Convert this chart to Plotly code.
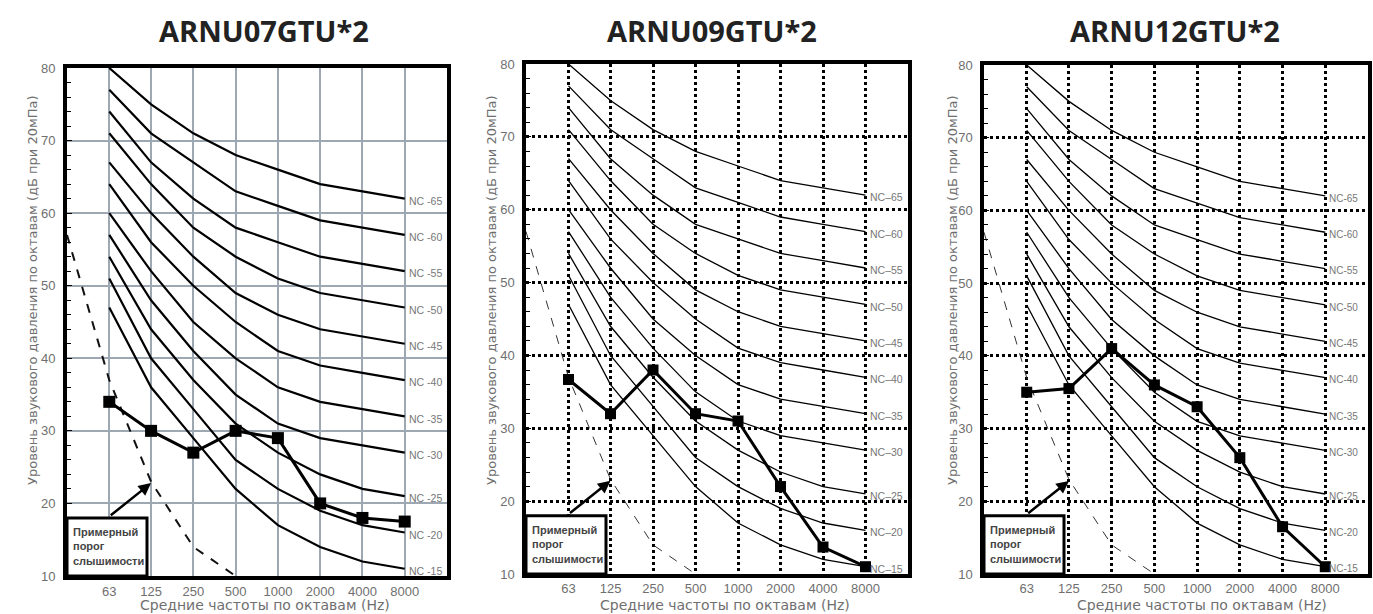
import math
import plotly.graph_objects as go

# ---------------- data ----------------
freqs = [63, 125, 250, 500, 1000, 2000, 4000, 8000]
freq_labels = ["63", "125", "250", "500", "1000", "2000", "4000", "8000"]

nc15 = [47, 36, 29, 22, 17, 14, 12, 11]
nc20 = [51, 40, 33, 26, 22, 19, 17, 16]
nc25 = [54, 44, 37, 31, 27, 24, 22, 21]
nc30 = [57, 48, 41, 35, 31, 29, 28, 27]
nc35 = [60, 52, 45, 40, 36, 34, 33, 32]
nc40 = [64, 56, 50, 45, 41, 39, 38, 37]
nc45 = [67, 60, 54, 49, 46, 44, 43, 42]
nc50 = [71, 64, 58, 54, 51, 49, 48, 47]
nc55 = [74, 67, 62, 58, 56, 54, 53, 52]
nc60 = [77, 71, 67, 63, 61, 59, 58, 57]
nc65 = [80, 75, 71, 68, 66, 64, 63, 62]
nc_names = ["15", "20", "25", "30", "35", "40", "45", "50", "55", "60", "65"]
nc_curves = [nc15, nc20, nc25, nc30, nc35, nc40, nc45, nc50, nc55, nc60, nc65]

thr_freq = [31.5, 63, 125, 250, 500]
thr_level = [57, 37, 23, 14, 10]

unit07 = [34, 30, 27, 30, 29, 20, 18, 17.5]
unit09 = [36.7, 32, 38, 32, 31, 22, 13.7, 11]
unit12 = [35, 35.5, 41, 36, 33, 26, 16.5, 11]

titles = ["ARNU07GTU*2", "ARNU09GTU*2", "ARNU12GTU*2"]
units = [unit07, unit09, unit12]
nc_label_fmt = ["NC -{}", "NC\u2013{}", "NC-{}"]

y_title = "Уровень звукового давления по октавам (дБ при 20мПа)"
x_title = "Средние частоты по октавам (Hz)"
box_text = "Примерный<br>порог<br>слышимости"

# ---------------- layout geometry (pixels) ----------------
W, H = 1373, 614
panels = [
    dict(x0=67, x1=447, top=68, bottom=576, grid="solid", gridcolor="#9ea8b2", gridw=2,
         frame=4, ncw=2.2, thrw=2, thrdash="dash", thrcolor="#111", msize=12, lw=3,
         ytx=32, xtx=265, ttx=264, ncsize=10.5, arroww=2.5),
    dict(x0=526, x1=908, top=64, bottom=574, grid="dot", gridcolor="#000", gridw=2.5,
         frame=3.5, ncw=1.3, thrw=1, thrdash="dash", thrcolor="#333", msize=11, lw=3,
         ytx=491, xtx=725, ttx=712, ncsize=10.5, arroww=2.5),
    dict(x0=984, x1=1368, top=65, bottom=574, grid="dot", gridcolor="#000", gridw=2.5,
         frame=3.5, ncw=1.3, thrw=1, thrdash="dash", thrcolor="#333", msize=11, lw=3,
         ytx=952, xtx=1202, ttx=1175, ncsize=10, arroww=2.5),
]

fig = go.Figure()
annotations = []
shapes = []
xr = [math.log10(31.5), math.log10(16000)]
GRAY = "#6f6f6f"
FONT = "Liberation Sans"
TFONT = "DejaVu Sans"

for i, p in enumerate(panels):
    n = "" if i == 0 else str(i + 1)
    xa, ya = "x" + n, "y" + n
    xkey, ykey = "xaxis" + n, "yaxis" + n

    # NC curves
    for name, curve in zip(nc_names, nc_curves):
        fig.add_trace(go.Scatter(x=freqs, y=curve, xaxis=xa, yaxis=ya, mode="lines",
                                 line=dict(color="#000", width=p["ncw"]),
                                 showlegend=False, hoverinfo="skip"))
        annotations.append(dict(x=math.log10(freqs[-1]), y=curve[-1] - 0.3, xref=xa, yref=ya,
                                text=nc_label_fmt[i].format(name), showarrow=False,
                                xanchor="left", yanchor="middle", xshift=2,
                                font=dict(size=p["ncsize"], color="#777", family=FONT)))
    # hearing threshold
    fig.add_trace(go.Scatter(x=thr_freq, y=thr_level, xaxis=xa, yaxis=ya, mode="lines",
                             line=dict(color=p["thrcolor"], width=p["thrw"], dash=p["thrdash"]),
                             showlegend=False, hoverinfo="skip"))
    # unit data
    fig.add_trace(go.Scatter(x=freqs, y=units[i], xaxis=xa, yaxis=ya, mode="lines+markers",
                             line=dict(color="#000", width=p["lw"]),
                             marker=dict(symbol="square", size=p["msize"], color="#000"),
                             showlegend=False))

    fig.update_layout(**{
        xkey: dict(domain=[p["x0"] / W, p["x1"] / W], anchor=ya, type="log", range=xr,
                   tickvals=freqs, ticktext=freq_labels, ticks="", showgrid=True,
                   gridcolor=p["gridcolor"], gridwidth=p["gridw"], griddash=p["grid"],
                   showline=True, linecolor="#000", linewidth=p["frame"], mirror=True,
                   zeroline=False, ticklabelstandoff=0, automargin=False,
                   tickfont=dict(size=13, color=GRAY, family=FONT)),
        ykey: dict(domain=[1 - p["bottom"] / H, 1 - p["top"] / H], anchor=xa, range=[10, 80],
                   dtick=10, tick0=10, ticks="inside", ticklen=5, tickcolor="#000",
                   showgrid=True, gridcolor=p["gridcolor"], gridwidth=p["gridw"], griddash=p["grid"],
                   minor=dict(dtick=2, ticks="inside", ticklen=4, tickcolor="#000", showgrid=False),
                   showline=True, linecolor="#000", linewidth=p["frame"], mirror=True,
                   zeroline=False, ticklabelstandoff=5, automargin=False,
                   tickfont=dict(size=13, color=GRAY, family=FONT)),
    })

    # threshold box
    bw = 80 / (p["x1"] - p["x0"])
    shapes.append(dict(type="rect", xref=xa + " domain", yref=ya, x0=0, x1=bw, y0=10, y1=18,
                       line=dict(color="#000", width=3), fillcolor="#fff", layer="above"))
    annotations.append(dict(xref=xa + " domain", yref=ya, x=0.01, y=14, text=box_text,
                            showarrow=False, xanchor="left", yanchor="middle", align="left",
                            font=dict(size=11, color="#444", weight="bold", family=FONT)))
    # arrow
    annotations.append(dict(xref=xa, yref=ya, axref=xa, ayref=ya,
                            x=math.log10(125), y=22.8, ax=math.log10(63), ay=18.2,
                            text="", showarrow=True, arrowhead=2, arrowsize=1,
                            arrowwidth=p["arroww"], arrowcolor="#000"))
    # titles
    annotations.append(dict(xref="paper", yref="paper", x=p["ttx"] / W, y=1 - 30 / H,
                            text="<b>" + titles[i] + "</b>", showarrow=False,
                            xanchor="center", yanchor="middle",
                            font=dict(size=29, color="#222", family="Open Sans")))
    annotations.append(dict(xref="paper", yref="paper", x=p["ytx"] / W, y=1 - 290 / H,
                            text=y_title, textangle=-90, showarrow=False,
                            xanchor="center", yanchor="middle",
                            font=dict(size=13, color=GRAY, family=TFONT)))
    annotations.append(dict(xref="paper", yref="paper", x=p["xtx"] / W, y=1 - 605 / H,
                            text=x_title, showarrow=False,
                            xanchor="center", yanchor="middle",
                            font=dict(size=14, color=GRAY, family=TFONT)))

fig.update_layout(width=W, height=H, margin=dict(l=0, r=0, t=0, b=0, autoexpand=False),
                  paper_bgcolor="#fff", plot_bgcolor="#fff",
                  annotations=annotations, shapes=shapes, showlegend=False)

fig.write_html("out.html", config={"displayModeBar": False},
               post_script="document.body.style.margin='0';document.body.style.overflow='hidden';")
